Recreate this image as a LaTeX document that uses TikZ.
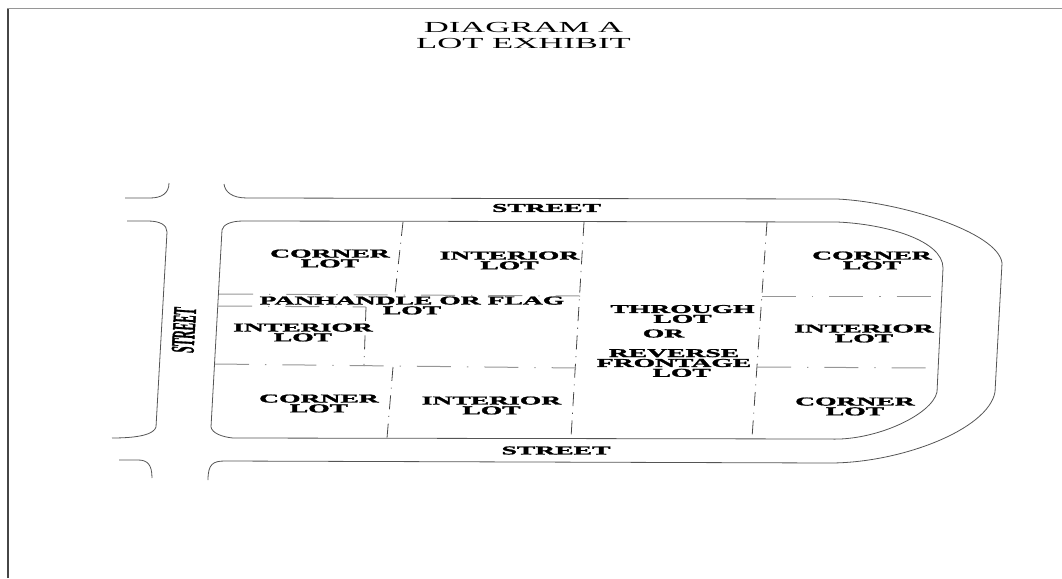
\documentclass[tikz,border=0pt]{standalone}
\usepackage{xcolor}
\usepackage{fontspec}
\setmainfont{Liberation Serif}
\newfontfamily\lotfont[BoldFeatures={FakeBold=1.5}]{Liberation Serif}
\usepackage{tikz}
\definecolor{primary}{RGB}{85, 85, 85}
\definecolor{frame}{RGB}{70, 70, 70}
\definecolor{parcel}{RGB}{150, 150, 150}
\newcommand{\lotname}[1]{#1\\LOT\hspace{4.5pt}}
\tikzset{
  lotbase/.style={font=\fontsize{9}{7.4}\lotfont\bfseries,align=center,text=black,inner sep=0pt},
  lotlabel/.style={lotbase,xscale=2.3},
  titlelabel/.style={font=\fontsize{11.5}{12}\selectfont,align=center,text=black,inner sep=0pt,xscale=2.26},
  edgeline/.style={primary,line width=0.6pt},
  lothoriz/.style={parcel,line width=0.75pt,dash pattern=on 25.5pt off 12pt on 1pt off 12pt},
  lotvert/.style={frame,line width=0.6pt,dash pattern=on 10.5pt off 5pt on 0.8pt off 5pt}
}
\begin{document}
\begin{tikzpicture}[x=0.75pt,y=-0.75pt]
\useasboundingbox (0,0) rectangle (1062,578);
\draw[frame,line width=1.4pt] (7.7,578) -- (7.7,8);
\draw[parcel,line width=1.1pt] (7,8.5) -- (1062,8.5);
\node[titlelabel] (title) at (523.5,35) {DIAGRAM A\\LOT EXHIBIT};
% street edges
\draw[edgeline] (125,198) -- (150,198) .. controls (162,198) and (169,193) .. (169,183);
\draw[edgeline] (224,184) .. controls (225,192) and (232,198) .. (247,198) -- (837,199) .. controls (900,202) and (998,232) .. (1002,263) -- (995,392) .. controls (988,430) and (900,463) .. (830,463) -- (225,461) .. controls (213,461) and (208,464) .. (208,480);
\draw[edgeline] (127,221) -- (148,221) .. controls (160,221) and (167,225) .. (167,232) -- (156,427) .. controls (154,434) and (140,438) .. (112,438);
\draw[edgeline] (119,460) -- (138,460) .. controls (147,460) and (152,464) .. (152,478);
% block outline
\draw[edgeline] (243,221) -- (837,222) .. controls (885,224) and (943,240) .. (943,268) -- (937,392) .. controls (932,415) and (875,441) .. (830,439) -- (233,438) .. controls (222,437) and (212,433) .. (211,427) -- (222,230) .. controls (223,225) and (230,221) .. (243,221);
% lot lines
\draw[lotvert] (403,222) -- (395,294);
\draw[lotvert] (393,367) -- (387,438);
\draw[lotvert] (584,222) -- (571,438);
\draw[lotvert] (767,222) -- (752,438);
\draw[lotvert] (366,307) -- (364,366);
\draw[lothoriz] (219,294) -- (580,296);
\draw[lothoriz] (218,306) -- (366,307);
\draw[lothoriz] (215,364) -- (576,368);
\draw[lothoriz] (762,296) -- (942,296);
\draw[lothoriz] (757,367) -- (937,368);
% labels
\node[lotlabel] (cornerA) at (330,258.5) {\lotname{CORNER}};
\node[lotlabel] (interiorA) at (509.5,260.5) {\lotname{INTERIOR}};
\node[lotlabel] (cornerB) at (872,260.5) {\lotname{CORNER}};
\node[lotlabel] (flag) at (412,305.5) {PANHANDLE OR FLAG\\LOT\hspace{10pt}};
\node[lotlabel] (interiorB) at (303,332.5) {\lotname{INTERIOR}};
\node[lotlabel] (interiorC) at (864,333.5) {\lotname{INTERIOR}};
\node[lotlabel] (through) at (682.5,314) {\lotname{THROUGH}};
\node[lotlabel] (or) at (663.5,333.5) {OR};
\node[lotlabel] (reverse) at (674,363) {REVERSE\hspace{2pt}\\FRONTAGE\\\hspace{5pt}LOT};
\node[lotlabel] (cornerC) at (319,403.5) {\lotname{CORNER}};
\node[lotlabel] (interiorD) at (491.5,405.5) {\lotname{INTERIOR}};
\node[lotlabel] (cornerD) at (855,406.5) {\lotname{CORNER}};
\node[lotlabel] (streetN) at (546.5,208) {STREET};
\node[lotlabel] (streetS) at (556,450.5) {STREET};
\node[lotbase,rotate=86.5,xscale=0.96,yscale=2.75] (streetW) at (184,330) {STREET};
\end{tikzpicture}
\end{document}
